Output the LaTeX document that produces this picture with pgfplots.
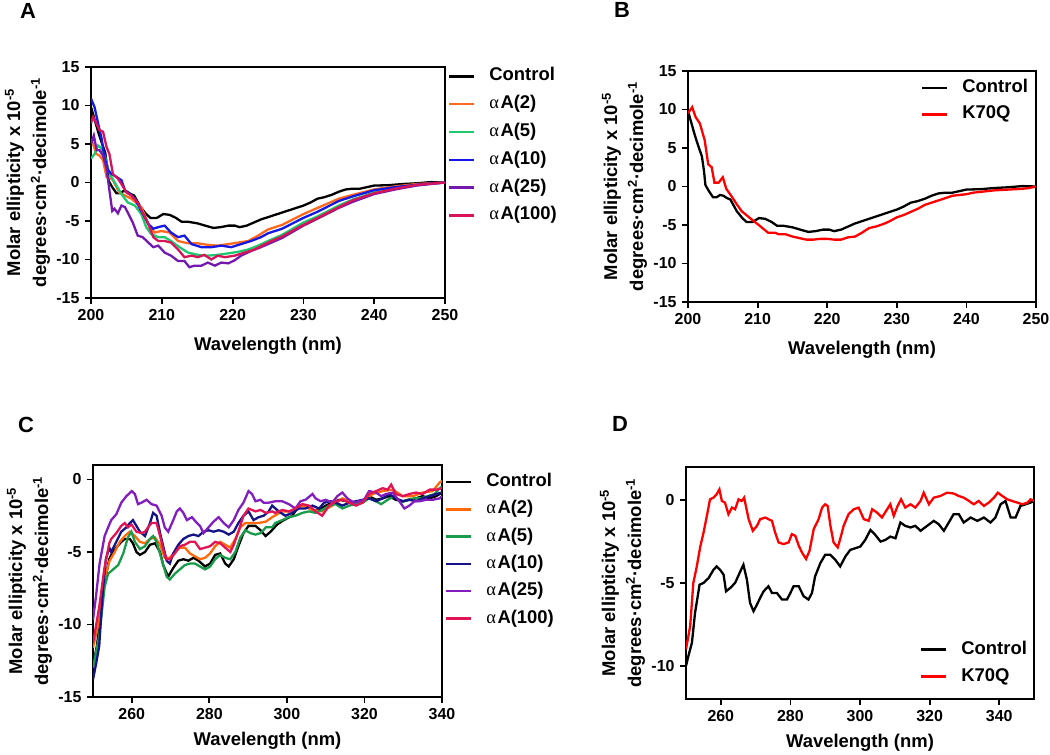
\documentclass[border=0pt]{standalone}
\usepackage{fontspec}
\setmainfont{Liberation Sans}
\newfontfamily\symfont{Liberation Serif}
\usepackage{pgfplots}
\pgfplotsset{compat=1.18}
\usepackage{pgfplotstable}

\definecolor{aOrange}{RGB}{255,105,30}
\definecolor{aGreen}{RGB}{30,200,110}
\definecolor{aBlue}{RGB}{20,25,230}
\definecolor{aPurple}{RGB}{115,25,175}
\definecolor{aCrimson}{RGB}{215,20,90}
\definecolor{cOrange}{RGB}{255,105,10}
\definecolor{cGreen}{RGB}{25,155,75}
\definecolor{cNavy}{RGB}{20,20,135}
\definecolor{cPurple}{RGB}{130,30,190}
\definecolor{cCrimson}{RGB}{225,20,85}
\definecolor{kRed}{RGB}{255,0,0}

\newcommand{\al}{{\symfont\mdseries α}\kern1.5pt}

% ---------- Panel A / B data ----------
\pgfplotstableread{
x y
200 9.8
200.5 8.2
201 6.6
201.5 5.2
202 3.9
202.3 2.0
202.5 0.2
203 -0.6
203.6 -1.4
204.1 -1.4
204.6 -1.1
205.1 -1.2
205.6 -1.5
206.1 -1.7
207 -3.2
207.8 -4.1
208.4 -4.6
209.3 -4.6
210.2 -4.1
211.1 -4.2
212 -4.6
212.8 -5.1
213.7 -5.1
215 -5.3
216.5 -5.7
217.3 -5.9
218.3 -5.8
219.4 -5.6
220.3 -5.6
221 -5.8
222 -5.6
223 -5.2
224 -4.8
225 -4.5
226 -4.2
227 -3.9
228 -3.6
229 -3.3
230 -3.0
231 -2.6
232 -2.1
233 -1.9
234 -1.6
235 -1.2
236 -0.9
237 -0.8
238 -0.8
239 -0.6
240 -0.4
242 -0.35
244 -0.2
246 -0.1
248 0.05
250 0
}\Actrl

\pgfplotstableread{
x y
200 5.6
200.3 5.0
200.75 3.7
201.2 3.5
201.7 2.9
202.2 0.7
202.6 0.7
203.1 0.3
203.6 -0.6
204 -1.3
204.8 -1.7
205.7 -2.1
207.1 -3.2
208.3 -5.8
209 -6.5
209.9 -6.3
211.1 -6.5
212.3 -7.6
213.7 -7.9
215.1 -7.9
216.5 -8.1
217.9 -8.2
219.4 -8.0
220.8 -7.8
222.2 -7.6
223.6 -6.9
225 -6.1
227 -5.5
230 -4.1
232 -3.3
235 -2.1
237 -1.6
240 -0.9
243 -0.5
246 -0.2
250 0
}\Atwo

\pgfplotstableread{
x y
200 3.1
200.5 3.7
201 4.8
201.5 4.4
202 3.3
202.4 1.8
202.9 0.7
203.6 -0.4
204.3 -1.5
205.2 -2.6
206.2 -3.0
207.1 -4.1
207.8 -5.8
208.5 -6.7
209.5 -7.1
210.4 -7.1
211.3 -7.6
212.5 -8.4
213.7 -9.1
215.1 -9.4
216.5 -9.5
217.9 -9.4
219.4 -9.2
220.8 -9.0
222.2 -8.7
223.6 -8.2
225 -7.6
227 -6.8
230 -5.2
232 -4.4
235 -3.0
237 -2.2
240 -1.3
243 -0.8
246 -0.3
250 0
}\Afive

\pgfplotstableread{
x y
200 10.9
200.5 9.8
201 7.7
201.5 5.7
201.9 3.3
202.4 1.6
202.9 1.1
203.3 0.9
204.3 0.3
204.8 -1.0
205.5 -1.5
206.2 -2.1
207.1 -3.7
208.1 -5.4
208.8 -6.0
209.5 -5.8
210.4 -5.6
211.3 -6.5
212.3 -7.1
213.2 -6.9
214.2 -8.0
215.6 -8.4
217 -8.4
218.4 -8.2
219.8 -8.4
221.2 -8.0
222.6 -7.6
224 -7.1
225 -6.6
227 -6.0
230 -4.6
232 -3.8
235 -2.4
237 -1.8
240 -1.0
243 -0.6
245 -0.4
247 -0.2
250 0
}\Aten

\pgfplotstableread{
x y
200 5.0
200.4 6.1
200.8 4.2
201.2 4.2
201.7 3.5
202.2 1.8
202.6 -1.0
203 -3.7
203.3 -3.4
203.8 -4.0
204.3 -3.0
204.8 -3.2
205.3 -4.1
205.9 -5.2
206.6 -6.9
207.3 -7.1
208.1 -7.8
208.8 -8.4
209.5 -8.2
210.4 -9.1
211.3 -9.5
212.3 -10.2
213.2 -10.2
213.9 -11.0
214.6 -10.8
215.6 -10.8
216.5 -10.4
217.5 -10.8
218.4 -10.4
219.4 -10.5
220.3 -10.1
221.2 -9.5
222.6 -8.9
224 -8.4
225 -8.0
227 -7.2
230 -5.6
232 -4.7
235 -3.3
237 -2.5
240 -1.5
243 -0.9
246 -0.4
250 0
}\Atwentyfive

\pgfplotstableread{
x y
200 7.7
200.3 8.5
200.75 7.7
201.2 6.8
201.7 6.6
202.2 4.6
202.6 3.7
203.1 1.1
203.8 0.5
204.3 -0.2
205 -1.3
205.7 -1.7
206.6 -2.6
207.3 -3.9
208.1 -5.4
208.8 -7.1
209.5 -7.6
210.4 -7.6
211.3 -7.8
212.3 -8.7
213.2 -9.7
214.2 -9.5
215.1 -9.7
216 -9.4
217 -10.0
217.9 -9.5
218.9 -9.7
220.3 -9.5
221.7 -9.1
223.1 -8.7
225 -7.8
227 -7.0
230 -5.5
232 -4.6
235 -3.2
237 -2.3
240 -1.4
243 -0.8
246 -0.3
250 0
}\Ahundred

\pgfplotstableread{
x y
200 9.5
200.6 10.3
201.1 9.0
201.7 8.2
202.4 6.0
202.9 2.9
203.4 2.5
203.8 0.5
204.4 0.5
205 1.2
205.5 -0.3
206.2 -1.2
207 -2.3
207.7 -3.2
208.9 -4.1
210.3 -5.1
211.5 -6.0
212.5 -6.0
213 -6.2
214 -6.2
215 -6.5
216 -6.7
217 -6.9
218 -6.9
219 -6.8
220 -6.8
221 -6.9
222 -6.9
223 -6.6
224 -6.5
225 -6.0
226 -5.4
227 -5.2
228 -4.9
229 -4.5
230 -4.0
231 -3.7
232 -3.3
233 -2.9
234 -2.4
235 -2.1
236 -1.8
237 -1.5
238 -1.2
239 -1.1
240 -1.0
241 -0.8
242 -0.7
244 -0.5
246 -0.4
248 -0.3
249 -0.2
250 0
}\BKseventy

% ---------- Panel C data ----------
\pgfplotstableread{
x y
250 -12.8
251 -11.5
251.6 -10.2
252.9 -7.2
254.2 -5.5
254.7 -5.2
256 -4.7
257.3 -4.3
258.2 -4.1
259.5 -4.1
260.3 -4.4
261.2 -5.0
262.1 -5.2
263.4 -5.0
264.7 -4.5
266 -4.4
267.3 -5.0
268.1 -5.9
269.4 -6.7
270.7 -6.1
272 -5.6
273.3 -5.5
274.6 -5.6
275.9 -5.4
277.2 -5.6
278.9 -6.0
280.2 -5.8
281.5 -5.2
282.8 -5.1
284.1 -5.8
285 -6.0
286.3 -5.5
287.5 -4.6
288.8 -3.7
290.1 -3.2
291.9 -3.2
293.2 -3.5
294.5 -3.9
295.8 -3.6
297.5 -3.1
299.2 -2.8
301.4 -2.5
303.1 -1.8
304.8 -1.8
306.6 -2.1
308.3 -2.1
310 -1.8
311.7 -1.6
313.5 -1.4
315.6 -1.5
317.8 -1.6
319.5 -1.5
321.2 -1.15
323 -1.4
324.7 -1.3
326.4 -1.15
328.1 -1.4
329.9 -1.5
331.6 -1.4
333.3 -1.3
335 -1.15
336.8 -1.3
338.5 -1.15
340 -0.9
}\Cctrl

\pgfplotstableread{
x y
250 -11.6
251.6 -9.7
252.9 -6.9
254.3 -5.6
255.6 -5.0
256.9 -4.3
258.2 -3.9
259.5 -3.6
260.8 -3.9
262.1 -4.3
263.4 -4.4
264.7 -4.1
266 -4.0
267.3 -4.5
268.5 -5.4
269.8 -5.4
271.1 -5.0
272.4 -4.7
273.7 -4.7
275 -5.1
276.3 -5.3
277.6 -5.5
278.9 -5.4
280.2 -5.1
281.5 -4.6
282.8 -4.3
284.1 -4.5
285.4 -4.7
286.7 -4.1
288 -3.3
289.3 -3.0
291 -3.0
292.7 -3.0
294.6 -2.9
296.2 -2.6
298.8 -2.2
301.4 -2.2
304 -1.8
306.6 -2.1
309.1 -2.2
311.7 -1.8
314.3 -1.3
316.9 -1.6
319.5 -1.6
322.1 -1.0
324.7 -0.8
327.3 -0.7
329.9 -1.15
332.5 -1.15
335 -0.9
337.6 -0.8
339.4 -0.2
340 -0.1
}\Ctwo

\pgfplotstableread{
x y
250 -13.0
251.6 -10.8
253 -7.4
253.9 -6.5
255.2 -6.2
256.5 -5.9
257.8 -5.1
259 -4.0
259.9 -3.6
260.8 -4.3
262.1 -4.8
263.4 -4.6
264.7 -4.1
265.5 -3.9
266.4 -4.3
267.7 -5.5
269 -6.7
269.8 -6.9
271.1 -6.5
272.4 -6.2
273.7 -5.9
275 -5.8
276.3 -5.8
277.6 -6.0
278.9 -6.2
280.2 -6.0
281.5 -5.5
282.8 -5.2
284.1 -5.4
285.4 -5.5
286.7 -5.0
288 -4.0
289.3 -3.5
290.6 -3.7
291.9 -3.8
293.2 -3.7
294.6 -3.3
296.2 -3.3
297 -3.0
298.8 -2.8
300.5 -2.6
302.2 -2.5
304 -2.3
305.7 -2.2
307.4 -2.3
309.1 -2.1
310.9 -1.8
312.6 -1.7
314.3 -2.0
316.1 -1.8
317.8 -1.7
319.5 -1.6
321.2 -1.3
323 -1.5
324.3 -1.7
326 -1.4
327.7 -1.15
329.4 -1.6
331.1 -1.4
332.9 -1.3
334.6 -1.3
336.3 -1.15
338.1 -1.0
339.4 -0.6
340 -0.5
}\Cfive

\pgfplotstableread{
x y
250 -13.8
250.8 -12.7
251.6 -11.5
252.5 -7.8
253.3 -5.5
254.2 -4.7
254.7 -5.0
256 -4.3
257.3 -3.6
258.6 -3.3
259.5 -3.0
260.3 -2.8
261.2 -3.2
262.1 -3.6
263.4 -3.9
264.7 -3.0
265.5 -2.3
266.4 -2.5
267.3 -3.7
268.1 -4.6
269 -5.6
269.8 -5.8
270.7 -5.1
272 -4.5
273.3 -4.1
274.6 -3.9
275.9 -3.8
277.2 -3.9
278.5 -3.6
279.8 -3.5
281.1 -3.6
282.4 -3.5
283.7 -3.6
285 -3.8
286.3 -3.6
287.5 -3.0
288.8 -2.5
290.1 -2.2
291.4 -2.8
292.7 -2.6
294 -2.5
295.3 -2.2
296.2 -1.8
297.9 -2.2
299.6 -2.5
301.4 -2.3
303.1 -2.0
304.8 -2.0
306.6 -1.8
308.3 -2.0
309.6 -1.6
311.3 -1.5
312.6 -1.6
314.3 -1.8
316.1 -1.6
317.8 -1.5
319.5 -1.4
321.2 -1.3
323 -1.5
324.7 -1.3
326.4 -1.0
328.1 -1.3
329.9 -1.5
331.6 -1.4
333.3 -1.5
335 -1.3
336.8 -1.15
338.5 -1.0
340 -0.9
}\Cten

\pgfplotstableread{
x y
250 -9.7
250.8 -8.0
251.7 -5.8
253 -3.9
253.9 -3.3
254.7 -2.8
256 -2.4
257.3 -1.6
258.6 -1.15
260 -0.8
260.8 -1.0
261.6 -1.7
262.5 -1.6
263.8 -1.4
265.1 -1.7
266.4 -1.8
267.7 -2.5
268.5 -3.3
269.4 -3.6
270.7 -2.8
271.6 -2.2
272.4 -2.0
273.3 -2.3
274.2 -2.8
275.5 -2.6
276.8 -3.0
277.6 -3.2
278.5 -3.7
279.8 -3.3
281.1 -2.9
282.4 -2.6
283.7 -3.0
285 -3.3
286.3 -2.8
287.5 -2.1
288.8 -1.6
290.1 -0.8
291 -1.0
291.9 -1.5
293.2 -1.4
294 -1.6
295.3 -1.6
297 -1.5
298.8 -1.5
300.5 -1.7
302.2 -2.0
303.5 -1.5
304.8 -1.4
306.6 -1.0
307.4 -1.3
308.7 -1.5
310 -1.4
311.7 -1.6
313 -1.15
314.3 -0.9
315.6 -1.3
317.3 -1.6
318.6 -1.5
319.9 -1.4
321.2 -0.8
323 -0.9
324.3 -1.15
325.6 -1.0
327.3 -0.9
329 -1.5
330.3 -2.0
331.6 -1.8
332.9 -1.5
334.2 -1.5
335.9 -1.4
337.6 -1.4
339.4 -1.3
340 -1.15
}\Ctwentyfive

\pgfplotstableread{
x y
250 -11.3
251.6 -8.8
252.9 -6.2
254.2 -4.4
254.7 -4.1
256 -3.7
257.3 -3.2
258.2 -3.0
259 -3.3
259.9 -3.1
261.2 -3.6
262.5 -3.7
263.4 -3.6
264.2 -3.3
265.1 -3.0
266.4 -3.0
267.3 -3.9
268.1 -4.8
269 -5.5
269.8 -5.5
271.1 -5.1
272.4 -4.6
273.7 -4.5
275 -4.3
276.3 -4.3
277.6 -4.8
278.9 -4.7
280.2 -4.6
281.5 -4.3
282.8 -4.4
284.1 -4.7
285.4 -5.0
286.3 -4.5
287.5 -3.6
288.8 -2.5
290.1 -2.0
291.9 -2.2
293.2 -2.1
294.6 -2.3
296.2 -2.2
297 -2.3
298.8 -2.1
300.5 -2.2
302.2 -2.0
304 -1.7
305.7 -1.8
307.4 -2.2
309.1 -2.5
310.9 -1.8
312.6 -1.5
314.3 -1.4
316.1 -1.6
317.8 -1.8
319.5 -1.6
321.2 -1.0
323 -0.8
324.7 -0.6
326 -0.7
326.9 -0.35
328.1 -1.0
329.9 -1.15
331.6 -1.0
333.3 -0.9
335 -1.0
336.8 -0.7
338.5 -0.7
340 -0.6
}\Chundred

% ---------- Panel D data ----------
\pgfplotstableread{
x y
250 -10.0
250.7 -9.4
251.7 -8.6
252.6 -6.8
253.9 -5.1
255 -5.0
256.5 -4.7
257.9 -4.2
258.8 -4.0
259.8 -4.2
260.8 -4.5
261.5 -5.5
262.7 -5.3
264.1 -5.0
265.6 -4.3
266.5 -3.9
267.5 -4.8
268.4 -6.2
269.4 -6.7
270.4 -6.3
271.3 -5.9
272.3 -5.5
273.7 -5.2
274.7 -5.6
276.1 -5.6
277.6 -6.0
279 -6.0
280 -5.6
280.9 -5.2
282.4 -5.2
283.8 -5.8
285.2 -6.0
286.2 -5.6
287.1 -4.6
288.6 -3.8
290 -3.3
291.5 -3.3
292.9 -3.6
294.3 -4.0
295.8 -3.4
297.2 -3.0
298.7 -2.9
300.1 -2.8
301.5 -2.4
303 -1.8
304.4 -2.1
305.9 -2.5
307.3 -2.4
308.7 -2.2
310.2 -2.3
311.6 -1.35
313 -1.55
314.5 -1.65
315.9 -1.55
317.4 -1.85
319.3 -1.55
321.2 -1.25
322.6 -1.45
324.1 -1.85
325.5 -1.35
326.9 -0.85
328.4 -0.85
329.8 -1.35
331.8 -1.05
333.7 -1.25
335.6 -1.05
337.5 -1.35
338.9 -1.05
340.4 -0.25
341.8 -0.05
343.3 -1.05
344.7 -1.05
346.1 -0.35
347.6 -0.25
349 -0.15
350 -0.05
}\Dctrl

\pgfplotstableread{
x y
250 -9.0
251.2 -7.6
252.1 -5.0
253.1 -4.0
254.1 -2.8
255 -2.0
256 -0.95
256.9 0.05
257.9 0.15
258.8 0.35
259.6 0.65
260.3 -0.05
261.2 -0.15
262.2 -0.85
263.2 -0.45
264.1 -0.55
265.1 0.05
266 -0.05
266.7 0.15
268 -1.15
269.2 -1.85
270.4 -1.55
271.3 -1.15
272.8 -1.05
273.7 -1.15
274.7 -1.25
275.6 -1.95
276.6 -2.55
278 -2.65
279.5 -2.55
280.4 -2.05
281.4 -2.15
282.4 -2.75
283.3 -3.15
284.5 -3.55
285.5 -3.05
286.7 -1.75
288.1 -1.15
289.1 -0.45
290 -0.25
290.7 -0.35
291.5 -1.55
292.4 -2.55
293.6 -2.85
294.3 -2.35
295.3 -1.55
296.7 -0.85
298.2 -0.55
299.6 -0.45
301.1 -1.15
302.5 -1.25
303.5 -0.55
304.9 -0.75
306.3 -1.05
307.8 -0.55
308.7 -0.25
309.7 -0.95
310.8 -0.35
311.8 0.05
313 -0.45
314.5 -0.25
315.9 -0.45
317.4 -0.05
318.3 0.45
319.8 -0.25
321.2 0.15
323.1 0.25
325 0.45
326.9 0.4
328.4 0.25
329.8 0.15
331.3 -0.05
332.7 -0.25
334.1 -0.05
335.6 -0.35
337 -0.15
338.5 0.15
339.6 0.45
340.9 0.25
342.3 0.05
343.7 -0.05
345.2 -0.15
346.6 -0.25
348.1 -0.15
349 0.05
350 -0.05
}\DKseventy

\pgfplotsset{
  panel/.style={
    scale only axis, anchor=south west,
    axis line style={line width=2.2bp},
    axis background/.style={draw=black, line width=2.2bp},
    tick align=outside, xtick pos=bottom, ytick pos=left,
    major tick length=6bp,
    every tick/.style={line width=1.8bp, black},
    tick label style={font=\bfseries\fontsize{16}{16}\selectfont},
    xticklabel style={yshift=-2bp},
    yticklabel style={xshift=-2bp},
    every axis x label/.style={at={(rel axis cs:0.5,0)}, yshift=-44bp, anchor=center,
      font=\bfseries\fontsize{18.5}{22}\selectfont},
    every axis y label/.style={at={(rel axis cs:0,0.5)}, xshift=-63.5bp, rotate=90, anchor=center,
      align=center, font=\bfseries\fontsize{18.5}{26}\selectfont},
    xlabel={Wavelength (nm)},
    ylabel={Molar ellipticity x 10\textsuperscript{-5}\\degrees·cm\textsuperscript{2}·decimole\textsuperscript{-1}},
    legend cell align=left,
    legend image code/.code={\draw[##1, line width=2.4bp] (0bp,0bp) -- (25bp,0bp);},
    legend style={draw=none, fill=none, inner sep=0pt, outer sep=0pt,
      font=\bfseries\fontsize{18.5}{18.5}\selectfont,
      nodes={inner sep=2bp, text height=13bp, text depth=4bp},
      column sep=12bp},
  },
  dat/.style={line width=2.3bp, no markers, color=#1},
}

\begin{document}
\begin{tikzpicture}
\path[use as bounding box] (0,0) rectangle (1050bp,755bp);

% ---------------- A ----------------
\begin{axis}[panel, at={(91bp,457bp)}, width=354bp, height=231bp,
  xmin=200, xmax=250, ymin=-15, ymax=15,
  xlabel style={yshift=-4bp},
  xtick={200,210,220,230,240,250}, xticklabels={200,210,220,230,240,250},
  ytick={-15,-10,-5,0,5,10,15}, yticklabels={-15,-10,-5,0,5,10,15},
  legend style={at={(rel axis cs:1,1)}, anchor=north west, xshift=3bp, yshift=1bp, row sep=6.8bp}]
\addplot[dat=black] table[x=x,y=y] {\Actrl};
\addplot[dat=aOrange] table[x=x,y=y] {\Atwo};
\addplot[dat=aGreen] table[x=x,y=y] {\Afive};
\addplot[dat=aBlue] table[x=x,y=y] {\Aten};
\addplot[dat=aPurple] table[x=x,y=y] {\Atwentyfive};
\addplot[dat=aCrimson] table[x=x,y=y] {\Ahundred};
\legend{Control, \al A(2), \al A(5), \al A(10), \al A(25), \al A(100)}
\end{axis}

% ---------------- B ----------------
\begin{axis}[panel, at={(688bp,453bp)}, width=348bp, height=231bp,
  xmin=200, xmax=250, ymin=-15, ymax=15,
  xlabel style={yshift=-4bp},
  xtick={200,210,220,230,240,250}, xticklabels={200,210,220,230,240,250},
  ytick={-15,-10,-5,0,5,10,15}, yticklabels={-15,-10,-5,0,5,10,15},
  legend style={at={(rel axis cs:0,1)}, anchor=north west, xshift=233bp, yshift=-6.5bp, row sep=5.5bp}]
\addplot[dat=black] table[x=x,y=y] {\Actrl};
\addplot[dat=kRed] table[x=x,y=y] {\BKseventy};
\legend{Control, K70Q}
\end{axis}

% ---------------- C ----------------
\begin{axis}[panel, at={(93bp,58bp)}, width=349bp, height=232bp,
  xmin=250, xmax=340, ymin=-15, ymax=1,
  xtick={260,280,300,320,340}, xticklabels={260,280,300,320,340},
  ytick={-15,-10,-5,0}, yticklabels={-15,-10,-5,0},
  legend style={at={(rel axis cs:1,1)}, anchor=north west, xshift=3bp, yshift=-6.5bp, row sep=6.3bp}]
\addplot[dat=black] table[x=x,y=y] {\Cctrl};
\addplot[dat=cOrange] table[x=x,y=y] {\Ctwo};
\addplot[dat=cGreen] table[x=x,y=y] {\Cfive};
\addplot[dat=cNavy] table[x=x,y=y] {\Cten};
\addplot[dat=cPurple] table[x=x,y=y] {\Ctwentyfive};
\addplot[dat=cCrimson] table[x=x,y=y] {\Chundred};
\legend{Control, \al A(2), \al A(5), \al A(10), \al A(25), \al A(100)}
\end{axis}

% ---------------- D ----------------
\begin{axis}[panel, at={(686bp,56bp)}, width=348bp, height=232bp,
  xmin=250, xmax=350, ymin=-12, ymax=2,
  xtick={260,280,300,320,340}, xticklabels={260,280,300,320,340},
  ytick={-10,-5,0}, yticklabels={-10,-5,0},
  legend style={at={(rel axis cs:0,1)}, anchor=north west, xshift=234bp, yshift=-172bp, row sep=6bp}]
\addplot[dat=black] table[x=x,y=y] {\Dctrl};
\addplot[dat=kRed] table[x=x,y=y] {\DKseventy};
\legend{Control, K70Q}
\end{axis}

% panel letters
\node[font=\bfseries\fontsize{22}{22}\selectfont] at (28bp,744bp) {A};
\node[font=\bfseries\fontsize{22}{22}\selectfont] at (622bp,745bp) {B};
\node[font=\bfseries\fontsize{22}{22}\selectfont] at (26bp,330bp) {C};
\node[font=\bfseries\fontsize{22}{22}\selectfont] at (620bp,331bp) {D};
\end{tikzpicture}
\end{document}
